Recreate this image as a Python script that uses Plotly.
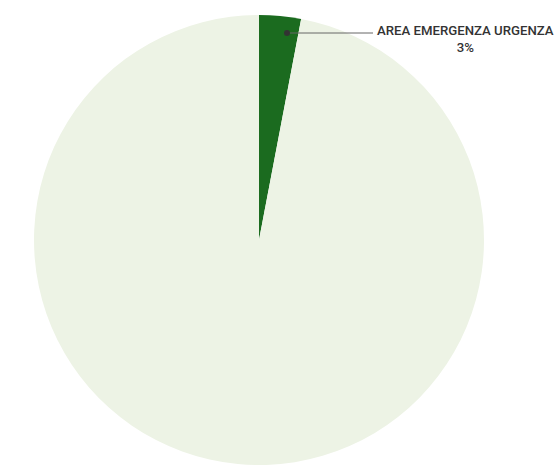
import plotly.graph_objects as go

W, H = 557, 467

labels = ["AREA EMERGENZA URGENZA", "ALTRO"]
values = [3, 97]
colors = ["#1B6B1F", "#EDF3E5"]

def px(x):
    return x / W

def py(y):
    return 1 - y / H

fig = go.Figure()
fig.add_trace(go.Pie(
    labels=labels,
    values=values,
    marker=dict(colors=colors, line=dict(width=0)),
    sort=False,
    direction="clockwise",
    rotation=0,
    textinfo="none",
    hoverinfo="label+percent",
    showlegend=False,
    domain=dict(x=[px(34), px(484)], y=[py(465), py(15)]),
))

# leader line and dot for the labelled slice
dot_x, dot_y = 287, 33
line_end_x = 373
fig.add_shape(type="line", xref="paper", yref="paper",
              x0=px(dot_x), y0=py(dot_y), x1=px(line_end_x), y1=py(dot_y),
              line=dict(color="#666666", width=1))
fig.add_shape(type="circle", xref="paper", yref="paper",
              x0=px(dot_x - 3), y0=py(dot_y - 3), x1=px(dot_x + 3), y1=py(dot_y + 3),
              fillcolor="#333333", line=dict(width=0))

pct = round(values[0] / sum(values) * 100)
fig.add_annotation(
    xref="paper", yref="paper",
    x=px(465), y=py(39.5),
    xanchor="center", yanchor="middle",
    text=f"{labels[0]}<br>{pct}%",
    showarrow=False,
    align="center",
    font=dict(family="Roboto", size=13.2, color="#333333", weight=500),
)

fig.update_layout(
    width=W, height=H,
    margin=dict(l=0, r=0, t=0, b=0),
    paper_bgcolor="white",
    plot_bgcolor="white",
)

fig.write_html("out.html")
